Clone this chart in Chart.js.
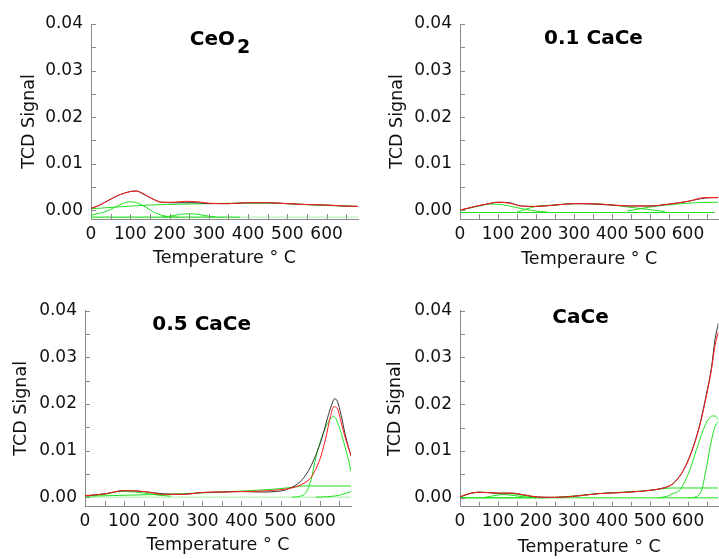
<!DOCTYPE html>
<html><head><meta charset="utf-8">
<script src="https://cdn.jsdelivr.net/npm/chart.js@4/dist/chart.umd.min.js"></script>
<style>
html,body{margin:0;padding:0;background:#fff;width:719px;height:559px;overflow:hidden}
canvas{position:absolute}
</style></head><body>
<canvas id="c1" width="360" height="280" style="left:0;top:0;width:360px;height:280px"></canvas>
<canvas id="c2" width="359" height="280" style="left:360px;top:0;width:359px;height:280px"></canvas>
<canvas id="c3" width="360" height="279" style="left:0;top:280px;width:360px;height:279px"></canvas>
<canvas id="c4" width="359" height="279" style="left:360px;top:280px;width:359px;height:279px"></canvas>
<script>
// ---------------- DATA ----------------
// Panel titles and axis titles
const panelTitles = [[['CeO', 0], ['2', 8]], [['0.1 CaCe', 0]], [['0.5 CaCe', 0]], [['CaCe', 0]]];
const xTitles = ['Temperature \u00b0 C', 'Temperaure \u00b0 C', 'Temperature \u00b0 C', 'Temperature \u00b0 C'];
const yTitle = 'TCD Signal';

// CeO2
const ceo2FitT  = [0, 20, 40, 70, 100, 115, 130, 155, 180, 210, 240, 270, 300, 350, 400, 450, 500, 550, 600, 640, 680];
const ceo2Red   = [0.0004, 0.0010, 0.0019, 0.0032, 0.0040, 0.0041, 0.0037, 0.0025, 0.0017, 0.0017, 0.0019, 0.0018, 0.0015, 0.0014, 0.0016, 0.0016, 0.0014, 0.0012, 0.0011, 0.0009, 0.0008];
const ceo2Black = [0.0004, 0.0010, 0.0019, 0.0032, 0.0040, 0.0041, 0.0036, 0.0025, 0.0017, 0.0016, 0.0016, 0.0016, 0.0014, 0.0014, 0.0016, 0.0016, 0.0014, 0.0012, 0.0011, 0.0009, 0.0008];
const ceo2BgT   = [0, 70, 150, 240, 300, 370, 450, 520, 600, 680];
const ceo2Bg    = [0.0003, 0.0007, 0.0011, 0.0013, 0.0014, 0.0015, 0.0015, 0.0013, 0.0010, 0.0008];
const ceo2P1T   = [0, 20, 40, 60, 80, 100, 120, 140, 160, 180, 200, 220];
const ceo2P1    = [-0.0011, -0.0007, -0.0002, 0.0006, 0.0014, 0.0018, 0.0015, 0.0006, -0.0004, -0.0011, -0.0014, -0.0015];
const ceo2P2T   = [180, 200, 220, 240, 260, 280, 300, 320];
const ceo2P2    = [-0.0015, -0.0013, -0.0010, -0.0008, -0.0008, -0.0010, -0.0013, -0.0015];
const ceo2FlatT = [0, 380];
const ceo2Flat  = [-0.0015, -0.0015];
const ceo2BaseT = [0, 680];
const ceo2Base  = [-0.0015, -0.0015];

// 0.1 CaCe
const c01FitT   = [0, 40, 70, 100, 130, 160, 200, 250, 300, 350, 400, 450, 500, 550, 600, 645, 680];
const c01Red    = [0.0000, 0.0008, 0.0013, 0.0017, 0.0015, 0.0009, 0.0008, 0.0011, 0.0014, 0.0014, 0.0011, 0.0009, 0.0009, 0.0013, 0.0019, 0.0027, 0.0027];
const c01Black  = [0.0000, 0.0008, 0.0013, 0.0017, 0.0016, 0.0009, 0.0008, 0.0011, 0.0014, 0.0013, 0.0011, 0.0009, 0.0009, 0.0013, 0.0019, 0.0026, 0.0027];
const c01G1T    = [0, 40, 80, 110, 140, 170, 200, 230];
const c01G1     = [0.0000, 0.0007, 0.0013, 0.0012, 0.0007, 0.0002, -0.0002, -0.0004];
const c01G2T    = [150, 200, 250, 300, 350, 400, 450, 500, 540];
const c01G2     = [-0.0004, 0.0008, 0.0011, 0.0014, 0.0014, 0.0011, 0.0006, 0.0001, -0.0003];
const c01G3T    = [440, 480, 520, 570, 620, 680];
const c01G3     = [-0.0002, 0.0004, 0.0009, 0.0013, 0.0016, 0.0017];
const c01FlatT  = [0, 670];
const c01Flat   = [-0.0005, -0.0005];

// 0.5 CaCe
const c05BlackT = [0, 50, 100, 150, 200, 250, 300, 350, 400, 450, 490, 520, 550, 570, 590, 605, 620, 630, 638, 645, 655, 665, 680];
const c05Black  = [0.0003, 0.0007, 0.0014, 0.0012, 0.0007, 0.0006, 0.0010, 0.0011, 0.0012, 0.0011, 0.0012, 0.0018, 0.0033, 0.0055, 0.0090, 0.0125, 0.0170, 0.0197, 0.0211, 0.0206, 0.0175, 0.0135, 0.0088];
const c05RedT   = [0, 50, 100, 150, 200, 250, 300, 350, 400, 450, 500, 530, 560, 580, 600, 615, 628, 636, 645, 655, 665, 680];
const c05Red    = [0.0003, 0.0007, 0.0014, 0.0012, 0.0006, 0.0006, 0.0010, 0.0011, 0.0012, 0.0013, 0.0016, 0.0020, 0.0030, 0.0045, 0.0080, 0.0125, 0.0175, 0.0194, 0.0190, 0.0160, 0.0128, 0.0090];
const c05PeakT  = [530, 550, 565, 578, 590, 605, 620, 636, 650, 662, 672, 680];
const c05Peak   = [0.0000, 0.0002, 0.0010, 0.0037, 0.0085, 0.0128, 0.0158, 0.0173, 0.0150, 0.0116, 0.0085, 0.0055];
const c05BgT    = [0, 100, 200, 300, 400, 480, 540, 560, 680];
const c05Bg     = [0.0002, 0.0004, 0.0006, 0.0009, 0.0013, 0.0017, 0.0022, 0.0024, 0.0024];
const c05LowT   = [0, 50, 90, 130, 180, 220];
const c05Low    = [0.0002, 0.0006, 0.0012, 0.0011, 0.0005, 0.0002];
const c05EndT   = [590, 620, 650, 680];
const c05End    = [0.0000, 0.0001, 0.0004, 0.0012];
const c05BaseT  = [0, 680];
const c05Base   = [0.0000, 0.0000];

// CaCe
const caceFitT  = [0, 25, 50, 100, 135, 170, 200, 250, 310, 365, 420, 460, 500, 530, 560, 590, 614, 632, 649, 662, 671, 680];
const caceBlack = [0.0002, 0.0009, 0.0012, 0.0010, 0.0010, 0.0006, 0.0002, 0.0001, 0.0004, 0.0009, 0.0011, 0.0013, 0.0016, 0.0020, 0.0030, 0.0062, 0.0110, 0.0160, 0.0224, 0.0280, 0.0338, 0.0373];
const caceRed   = [0.0002, 0.0009, 0.0012, 0.0010, 0.0010, 0.0006, 0.0002, 0.0001, 0.0004, 0.0009, 0.0011, 0.0013, 0.0016, 0.0020, 0.0030, 0.0062, 0.0108, 0.0158, 0.0220, 0.0275, 0.0325, 0.0355];
const caceAT    = [520, 544, 560, 579, 605, 623, 640, 653, 665, 671, 680];
const caceA     = [0.0000, 0.0003, 0.0009, 0.0017, 0.0060, 0.0105, 0.0145, 0.0167, 0.0175, 0.0175, 0.0167];
const caceBT    = [600, 623, 636, 649, 662, 671, 680];
const caceB     = [0.0000, 0.0003, 0.0017, 0.0067, 0.0124, 0.0152, 0.0163];
const caceBgT   = [0, 100, 200, 250, 300, 350, 400, 450, 500, 540, 560, 680];
const caceBg    = [0.0000, 0.0000, 0.0000, 0.0001, 0.0004, 0.0008, 0.0011, 0.0013, 0.0016, 0.0020, 0.0021, 0.0021];
const caceLowT  = [0, 25, 50, 80, 110, 140, 170, 200];
const caceLow   = [0.0001, 0.0009, 0.0012, 0.0011, 0.0008, 0.0005, 0.0002, 0.0000];
const caceLow2T = [60, 100, 130, 160, 200];
const caceLow2  = [0.0000, 0.0006, 0.0009, 0.0006, 0.0001];
const caceBaseT = [0, 680];
const caceBase  = [0.0000, 0.0000];

// ---------------- STYLE / LAYOUT ----------------
const RED = '#ff1a1a', BLACK = '#333333', GREEN = '#1fe01f', LIGHT = '#a6f0a6', AXIS = '#8a8a8a';
Chart.defaults.font.family = "'DejaVu Sans', sans-serif";
Chart.defaults.color = '#111';

function ds(T, V, color, w) {
  return { data: T.map((t, i) => ({ x: t, y: V[i] })), borderColor: color, borderWidth: w || 1,
           pointRadius: 0, fill: false, cubicInterpolationMode: 'monotone' };
}

const panelData = [
  [ds(ceo2FitT, ceo2Red, RED), ds(ceo2FitT, ceo2Black, BLACK), ds(ceo2BgT, ceo2Bg, GREEN), ds(ceo2P1T, ceo2P1, GREEN),
   ds(ceo2P2T, ceo2P2, GREEN), ds(ceo2FlatT, ceo2Flat, GREEN), ds(ceo2BaseT, ceo2Base, LIGHT)],
  [ds(c01FitT, c01Red, RED), ds(c01FitT, c01Black, BLACK), ds(c01G1T, c01G1, GREEN), ds(c01G2T, c01G2, GREEN),
   ds(c01G3T, c01G3, GREEN), ds(c01FlatT, c01Flat, GREEN)],
  [ds(c05RedT, c05Red, RED), ds(c05BlackT, c05Black, BLACK), ds(c05PeakT, c05Peak, GREEN), ds(c05BgT, c05Bg, GREEN),
   ds(c05LowT, c05Low, GREEN), ds(c05EndT, c05End, GREEN), ds(c05BaseT, c05Base, LIGHT)],
  [ds(caceFitT, caceRed, RED), ds(caceFitT, caceBlack, BLACK), ds(caceAT, caceA, GREEN), ds(caceBT, caceB, GREEN),
   ds(caceBgT, caceBg, GREEN), ds(caceLowT, caceLow, GREEN), ds(caceLow2T, caceLow2, GREEN), ds(caceBaseT, caceBase, GREEN)]
];

const layouts = [
  { id: 'c1', yW: 91,  top: 24,   right: 2,   xH: 61,   yTP: 19,   xTP: 11, cx: 220,   base: 45 },
  { id: 'c2', yW: 100, top: 24,   right: 0.6, xH: 61,   yTP: 27,   xTP: 10, cx: 233.5, base: 44 },
  { id: 'c3', yW: 85,  top: 30.7, right: 9,   xH: 53,   yTP: 11.2, xTP: 3,  cx: 201.7, base: 50 },
  { id: 'c4', yW: 100, top: 30.7, right: 0.6, xH: 52.3, yTP: 25.2, xTP: 1,  cx: 220.5, base: 43.3 }
];

const inwardTicks = {
  id: 'inwardTicks',
  afterDatasetsDraw(chart) {
    const { ctx, chartArea: a, scales: { x, y } } = chart;
    ctx.save();
    ctx.strokeStyle = AXIS; ctx.lineWidth = 1;
    ctx.beginPath();
    for (let t = 50; t <= x.max; t += 50) {
      const px = Math.round(x.getPixelForValue(t)) + 0.5;
      ctx.moveTo(px, a.bottom); ctx.lineTo(px, a.bottom - 5);
    }
    for (let k = 0; k <= 8; k++) {
      const py = Math.round(y.getPixelForValue(k * 0.005)) + 0.5;
      ctx.moveTo(a.left, py); ctx.lineTo(a.left + 5, py);
    }
    ctx.stroke();
    ctx.restore();
  }
};

const panelTitle = {
  id: 'panelTitle',
  afterDraw(chart, args, opts) {
    const { ctx } = chart;
    ctx.save();
    ctx.fillStyle = '#000';
    ctx.textBaseline = 'alphabetic';
    ctx.textAlign = 'left';
    let total = 0;
    const fonts = opts.parts.map((p, i) => (i === 0 ? 'bold 20px "DejaVu Sans"' : 'bold 19px "DejaVu Sans"'));
    opts.parts.forEach((p, i) => { ctx.font = fonts[i]; total += ctx.measureText(p[0]).width + (i > 0 ? 2 : 0); });
    let x = opts.cx - total / 2;
    opts.parts.forEach((p, i) => {
      ctx.font = fonts[i];
      if (i > 0) x += 2;
      ctx.fillText(p[0], x, opts.base + p[1]);
      x += ctx.measureText(p[0]).width;
    });
    ctx.restore();
  }
};

layouts.forEach((L, i) => {
  new Chart(document.getElementById(L.id), {
    type: 'line',
    data: { datasets: panelData[i] },
    plugins: [inwardTicks, panelTitle],
    options: {
      responsive: false, animation: false, devicePixelRatio: 1,
      layout: { padding: { left: 0, top: L.top, right: L.right, bottom: 0 } },
      plugins: { legend: { display: false }, tooltip: { enabled: false },
                 panelTitle: { parts: panelTitles[i], cx: L.cx, base: L.base } },
      scales: {
        x: {
          type: 'linear', min: 0, max: 680,
          afterFit: (s) => { s.height = L.xH; },
          border: { display: true, color: AXIS, width: 1 },
          grid: { drawOnChartArea: false, drawTicks: false },
          ticks: { stepSize: 100, includeBounds: false, padding: 5, maxRotation: 0, autoSkip: false,
                   font: { size: 17 }, color: '#111', callback: (v) => String(v) },
          title: { display: true, text: xTitles[i], font: { size: 17.5 }, color: '#111',
                   padding: { top: 0, bottom: L.xTP } }
        },
        y: {
          type: 'linear', min: -0.0019, max: 0.04,
          afterFit: (s) => { s.width = L.yW; },
          border: { display: true, color: AXIS, width: 1 },
          grid: { drawOnChartArea: false, drawTicks: false },
          ticks: { stepSize: 0.01, includeBounds: false, padding: 8, font: { size: 17 }, color: '#111',
                   callback: (v) => Number(v).toFixed(2) },
          title: { display: true, text: yTitle, font: { size: 17.5 }, color: '#111',
                   padding: { top: L.yTP, bottom: 0 } }
        }
      }
    }
  });
});
</script>
</body></html>
